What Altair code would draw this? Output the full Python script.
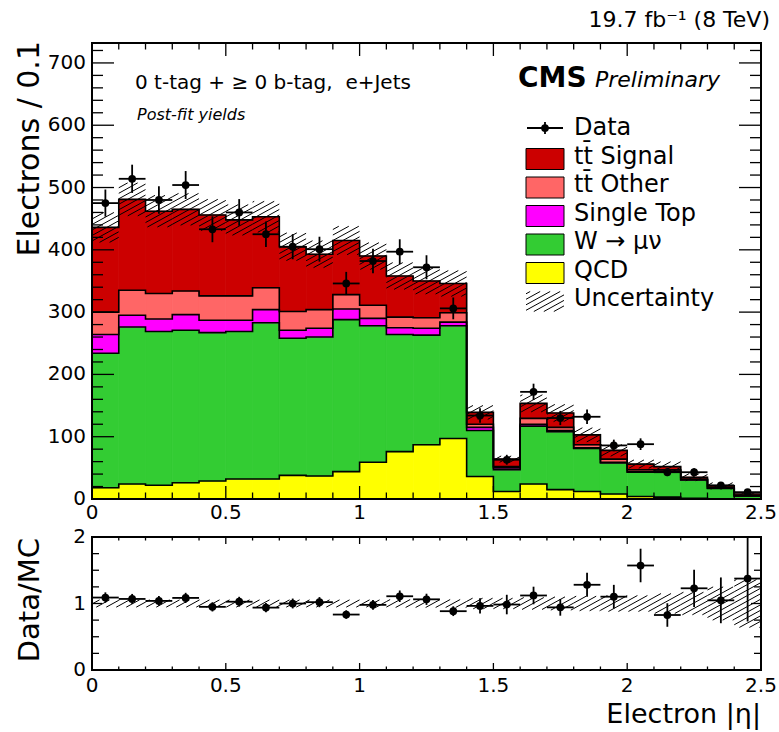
import altair as alt
import numpy as np
import pandas as pd

# ---------------------------------------------------------------------------
# Histogram content: 25 bins of width 0.1 in electron |eta|, post-fit yields
# ---------------------------------------------------------------------------
bin_edges = [round(0.1 * i, 1) for i in range(26)]

qcd = [18, 24, 22, 26, 29, 32, 32, 38, 37, 44, 59, 76, 87, 97, 36, 12, 24, 15, 12, 8, 4, 3, 1, 0.5, 0.3]
w_jets = [216, 252, 247, 245, 238, 237, 251, 220, 223, 244, 219, 188, 176, 181, 74, 35, 93, 93, 69, 50, 39, 41, 29.5, 16.5, 4.5]
single_top = [30, 19, 20, 25, 20, 18, 21, 13, 14, 17, 12, 11, 11, 6, 5, 3, 3, 2, 1, 1, 1, 1, 0.5, 0.3, 0.2]
tt_other = [36, 40, 41, 38, 39, 39, 35, 30, 30, 23, 21, 17, 17, 15, 5, 2, 9.5, 5, 5, 5, 3, 2, 1, 0.7, 0.5]
tt_signal = [136, 146, 132, 131, 130, 122, 114, 104, 89, 87, 79, 66, 59, 47, 19, 12, 24, 23, 16, 14, 9, 5, 3, 3, 2.5]
data_counts = [475, 514, 480, 504, 433, 460, 425, 405, 401, 346, 382, 397, 372, 306,
               134, 63, 172, 130, 132, 86, 88, 43, 43, 22, 11]
# relative systematic uncertainty on the total prediction
syst_frac = [0.055] * 11 + [0.06] * 3 + [0.08, 0.08, 0.09, 0.10, 0.11, 0.12, 0.12, 0.15, 0.17, 0.25, 0.36]

# stacking order, bottom to top
processes = ["QCD", "W \u2192 \u03bc\u03bd", "Single Top", "tt\u0304 Other", "tt\u0304 Signal"]
components = [qcd, w_jets, single_top, tt_other, tt_signal]
colors = ["#FFFF00", "#33CC33", "#FF00FF", "#FF6666", "#CC0000"]

# axis tick positions and labels
y_main_ticks = [0, 100, 200, 300, 400, 500, 600, 700]
y_ratio_ticks = [0, 1, 2]
x_ticks = [0, 0.5, 1, 1.5, 2, 2.5]
x_tick_labels = ["0", "0.5", "1", "1.5", "2", "2.5"]

# legend entries, top to bottom
legend_labels = ["Data", "tt\u0304 Signal", "tt\u0304 Other", "Single Top",
                 "W \u2192 \u03bc\u03bd", "QCD", "Uncertainty"]

# ---------------------------------------------------------------------------
# Layout (pixels inside the plot group)
# ---------------------------------------------------------------------------
PW = 669                 # plot width
MAIN_H = 456             # main panel height
R_TOP, R_BOT = 494, 627  # ratio panel top / bottom
Y_MAX = 732
FONT = "DejaVu Sans"

XS = alt.Scale(domain=[0, 2.5], range=[0, PW], nice=False, zero=False)
YM = alt.Scale(domain=[0, Y_MAX], range=[MAIN_H, 0], nice=False, zero=False)
YR = alt.Scale(domain=[0, 2], range=[R_BOT, R_TOP], nice=False, zero=False, clamp=True)


def X(f):
    return alt.X(f, type="quantitative", scale=XS, axis=None)


def Ym(f):
    return alt.Y(f, type="quantitative", scale=YM, axis=None)


def Yr(f):
    return alt.Y(f, type="quantitative", scale=YR, axis=None)


n = len(qcd)
lo = np.array(bin_edges[:-1])
hi = np.array(bin_edges[1:])
centre = (lo + hi) / 2
total = np.sum(np.array(components, dtype=float), axis=0)
data_arr = np.array(data_counts, dtype=float)
syst = np.array(syst_frac)

# ---------------------------------------------------------------------------
# Stacked histogram
# ---------------------------------------------------------------------------
rows, outline_rows = [], []
base = np.zeros(n)
for name, vals in zip(processes, components):
    top = base + np.array(vals, dtype=float)
    for i in range(n):
        rows.append(dict(process=name, lo=lo[i], hi=hi[i], y0=base[i], y1=top[i]))
        outline_rows.append(dict(process=name, x=lo[i], y=top[i]))
    outline_rows.append(dict(process=name, x=hi[-1], y=top[-1]))
    base = top
stack_df = pd.DataFrame(rows)
outline_df = pd.DataFrame(outline_rows)

proc_scale = alt.Scale(domain=processes, range=colors)
bars = alt.Chart(stack_df).mark_rect(strokeWidth=0.8).encode(
    x=X("lo"), x2="hi", y=Ym("y0"), y2="y1",
    color=alt.Color("process:N", scale=proc_scale, legend=None),
    stroke=alt.Stroke("process:N", scale=proc_scale, legend=None),
)
outlines = alt.Chart(outline_df).mark_line(
    interpolate="step-after", color="black", strokeWidth=1.6
).encode(x=X("x"), y=Ym("y"), detail="process:N")

# ---------------------------------------------------------------------------
# Hatched uncertainty bands (diagonal lines clipped to each bin's box)
# ---------------------------------------------------------------------------
SLOPE, SPACING = 0.55, 5.5


def hatch_segments(x0, x1, u0, u1):
    """Diagonal hatch lines inside the pixel box [x0,x1] x [u0,u1] (u upward)."""
    segs = []
    k0 = int(np.floor((u0 - SLOPE * x1) / SPACING))
    k1 = int(np.ceil((u1 - SLOPE * x0) / SPACING))
    for k in range(k0, k1 + 1):
        c = k * SPACING
        xa = max(x0, (u0 - c) / SLOPE)
        xb = min(x1, (u1 - c) / SLOPE)
        if xb - xa > 0.4:
            segs.append((xa, SLOPE * xa + c, xb, SLOPE * xb + c))
    return segs


def px_x(x):
    return x * PW / 2.5


def u_main(y):
    return (R_BOT - MAIN_H) + y * MAIN_H / Y_MAX


def main_from_u(u):
    return (u - (R_BOT - MAIN_H)) * Y_MAX / MAIN_H


R_SCALE = (R_BOT - R_TOP) / 2.0

main_hatch, ratio_hatch = [], []
for i in range(n):
    band_lo, band_hi = total[i] * (1 - syst[i]), total[i] * (1 + syst[i])
    for xa, ua, xb, ub in hatch_segments(px_x(lo[i]), px_x(hi[i]), u_main(band_lo), u_main(band_hi)):
        main_hatch.append(dict(x=xa * 2.5 / PW, x2=xb * 2.5 / PW, y=main_from_u(ua), y2=main_from_u(ub)))
    for xa, ua, xb, ub in hatch_segments(px_x(lo[i]), px_x(hi[i]),
                                         (1 - syst[i]) * R_SCALE, (1 + syst[i]) * R_SCALE):
        ratio_hatch.append(dict(x=xa * 2.5 / PW, x2=xb * 2.5 / PW, y=ua / R_SCALE, y2=ub / R_SCALE))

hatch_main = alt.Chart(pd.DataFrame(main_hatch)).mark_rule(color="black", strokeWidth=1).encode(
    x=X("x"), x2="x2", y=Ym("y"), y2="y2")
hatch_ratio = alt.Chart(pd.DataFrame(ratio_hatch)).mark_rule(color="black", strokeWidth=1).encode(
    x=X("x"), x2="x2", y=Yr("y"), y2="y2")

# ---------------------------------------------------------------------------
# Data points with Poisson errors, and Data/MC ratio
# ---------------------------------------------------------------------------
ratio = data_arr / total
ratio_err = np.sqrt((np.sqrt(data_arr) / total) ** 2 + (ratio * syst) ** 2)
pts = pd.DataFrame(dict(lo=lo, hi=hi, c=centre, n=data_arr,
                        nlo=data_arr - np.sqrt(data_arr), nhi=data_arr + np.sqrt(data_arr),
                        r=ratio, rlo=ratio - ratio_err, rhi=ratio + ratio_err))

ERR_W = 1.8
MARKER = 60
data_v = alt.Chart(pts).mark_rule(color="black", strokeWidth=ERR_W).encode(x=X("c"), y=Ym("nlo"), y2="nhi")
data_h = alt.Chart(pts).mark_rule(color="black", strokeWidth=ERR_W).encode(x=X("lo"), x2="hi", y=Ym("n"))
data_p = alt.Chart(pts).mark_point(filled=True, shape="circle", size=MARKER, color="black", opacity=1).encode(
    x=X("c"), y=Ym("n"))
ratio_v = alt.Chart(pts).mark_rule(color="black", strokeWidth=ERR_W).encode(x=X("c"), y=Yr("rlo"), y2="rhi")
ratio_h = alt.Chart(pts).mark_rule(color="black", strokeWidth=ERR_W).encode(x=X("lo"), x2="hi", y=Yr("r"))
ratio_p = alt.Chart(pts).mark_point(filled=True, shape="circle", size=MARKER, color="black", opacity=1).encode(
    x=X("c"), y=Yr("r"))

# ---------------------------------------------------------------------------
# Frames, inward ticks and tick labels
# ---------------------------------------------------------------------------
one = pd.DataFrame({"k": [0]})


def frame(y_top, y_bot):
    return alt.Chart(one).mark_rect(fill=None, stroke="black", strokeWidth=2).encode(
        x=alt.value(0), x2=alt.value(PW), y=alt.value(y_top), y2=alt.value(y_bot))


def y_ticks(values, yenc, length, width=1.3):
    df = pd.DataFrame({"v": values})
    left = alt.Chart(df).mark_rule(color="black", strokeWidth=width).encode(
        y=yenc, x=alt.value(0), x2=alt.value(length))
    right = alt.Chart(df).mark_rule(color="black", strokeWidth=width).encode(
        y=yenc, x=alt.value(PW), x2=alt.value(PW - length))
    return [left, right]


def x_ticks_at(values, y_edge, length, inward_sign, width=1.3):
    df = pd.DataFrame({"v": values})
    return alt.Chart(df).mark_rule(color="black", strokeWidth=width).encode(
        x=X("v"), y=alt.value(y_edge), y2=alt.value(y_edge + inward_sign * length))


main_minor_y = [v for v in range(0, Y_MAX, 20) if v % 100 != 0]
ratio_minor_y = [0.25, 0.5, 0.75, 1.25, 1.5, 1.75]
x_minor = [round(0.1 * i, 1) for i in range(26) if i % 5 != 0]

tick_layers = []
tick_layers += y_ticks(y_main_ticks, Ym("v"), 22)
tick_layers += y_ticks(main_minor_y, Ym("v"), 11)
tick_layers += y_ticks(y_ratio_ticks, Yr("v"), 10)
tick_layers += y_ticks(ratio_minor_y, Yr("v"), 7)
tick_layers += [
    x_ticks_at(x_ticks, MAIN_H, 13, -1), x_ticks_at(x_minor, MAIN_H, 6.5, -1),
    x_ticks_at(x_ticks, 0, 13, 1), x_ticks_at(x_minor, 0, 6.5, 1),
    x_ticks_at(x_ticks, R_BOT, 7, -1), x_ticks_at(x_minor, R_BOT, 3.5, -1),
    x_ticks_at(x_ticks, R_TOP, 7, 1), x_ticks_at(x_minor, R_TOP, 3.5, 1),
]

LBL = 20
ylab_main = alt.Chart(pd.DataFrame({"v": y_main_ticks, "t": [str(v) for v in y_main_ticks]})).mark_text(
    align="right", baseline="middle", font=FONT, fontSize=LBL, color="black").encode(
    x=alt.value(-6), y=Ym("v"), text="t:N")
ylab_ratio = alt.Chart(pd.DataFrame({"v": y_ratio_ticks, "t": [str(v) for v in y_ratio_ticks]})).mark_text(
    align="right", baseline="middle", font=FONT, fontSize=LBL, color="black").encode(
    x=alt.value(-6), y=Yr("v"), text="t:N")
xlab_df = pd.DataFrame({"v": x_ticks, "t": x_tick_labels})
xlab_main = alt.Chart(xlab_df).mark_text(
    align="center", baseline="top", font=FONT, fontSize=LBL, color="black").encode(
    x=X("v"), y=alt.value(MAIN_H + 4), text="t:N")
xlab_ratio = alt.Chart(xlab_df).mark_text(
    align="center", baseline="top", font=FONT, fontSize=LBL, color="black").encode(
    x=X("v"), y=alt.value(R_BOT + 6), text="t:N")


def label(text, x, y, size, align="left", baseline="alphabetic", angle=0, weight="normal", style="normal"):
    kw = dict(align=align, baseline=baseline, font=FONT, fontSize=size, color="black",
              fontWeight=weight, fontStyle=style)
    if angle:
        kw["angle"] = angle
    return alt.Chart(pd.DataFrame({"t": [text]})).mark_text(**kw).encode(
        x=alt.value(x), y=alt.value(y), text="t:N")


texts = [
    label("Electrons / 0.1", -53, -2, 30, align="right", angle=270),
    label("Data/MC", -53, R_TOP + 1, 29, align="right", angle=270),
    label("Electron |\u03b7|", PW, 680, 27, align="right"),
    label("19.7 fb\u207b\u00b9 (8 TeV)", PW + 9, -16, 22, align="right"),
    label("CMS", 426, 44, 28, weight="bold"),
    label("Preliminary", 503, 44, 22, style="italic"),
    label("0 t-tag + \u2265 0 b-tag,\u00a0 e+Jets", 43, 46, 20),
    label("Post-fit yields", 45, 77, 16, style="italic"),
]

# ---------------------------------------------------------------------------
# Legend
# ---------------------------------------------------------------------------
LEG_X0, LEG_X1, LEG_TXT = 434, 472, 482
ROW0, PITCH = 85, 28.5
legend_layers = []
for i, lab in enumerate(legend_labels):
    legend_layers.append(label(lab, LEG_TXT, ROW0 + i * PITCH, 24, baseline="middle"))

# data entry: marker with error cross
yc = ROW0
legend_layers += [
    alt.Chart(one).mark_rule(color="black", strokeWidth=ERR_W).encode(
        x=alt.value(LEG_X0 + 1), x2=alt.value(LEG_X1 - 1), y=alt.value(yc)),
    alt.Chart(one).mark_rule(color="black", strokeWidth=ERR_W).encode(
        x=alt.value((LEG_X0 + LEG_X1) / 2), y=alt.value(yc - 6), y2=alt.value(yc + 6)),
    alt.Chart(one).mark_point(filled=True, shape="circle", size=MARKER, color="black", opacity=1).encode(
        x=alt.value((LEG_X0 + LEG_X1) / 2), y=alt.value(yc)),
]
# filled boxes for the stacked processes
for j, name in enumerate(legend_labels[1:6]):
    col = colors[processes.index(name)]
    yc = ROW0 + (j + 1) * PITCH + 2.5
    legend_layers.append(
        alt.Chart(one).mark_rect(fill=col, stroke="black", strokeWidth=1).encode(
            x=alt.value(LEG_X0), x2=alt.value(LEG_X1), y=alt.value(yc - 10.5), y2=alt.value(yc + 10.5)))
# hatched swatch for the uncertainty
yc = ROW0 + 6 * PITCH + 2.5
leg_hatch = []
for xa, ua, xb, ub in hatch_segments(LEG_X0, LEG_X1, R_BOT - (yc + 10), R_BOT - (yc - 10)):
    leg_hatch.append(dict(x=xa * 2.5 / PW, x2=xb * 2.5 / PW, y=main_from_u(ua), y2=main_from_u(ub)))
legend_layers.append(
    alt.Chart(pd.DataFrame(leg_hatch)).mark_rule(color="black", strokeWidth=1).encode(
        x=X("x"), x2="x2", y=Ym("y"), y2="y2"))

# ---------------------------------------------------------------------------
layers = ([bars, outlines, hatch_main, data_v, data_h, data_p,
           hatch_ratio, ratio_v, ratio_h, ratio_p,
           frame(0, MAIN_H), frame(R_TOP, R_BOT)]
          + tick_layers + [ylab_main, ylab_ratio, xlab_main, xlab_ratio] + texts + legend_layers)

chart = alt.layer(*layers).resolve_scale(y="independent").properties(
    width=PW, height=R_BOT,
    padding={"left": 92, "top": 43, "right": 18, "bottom": 62},
    autosize=alt.AutoSizeParams(type="none"),
    background="white",
).configure_view(stroke=None)

chart.save("out.html", embed_options={"renderer": "svg", "actions": False})
